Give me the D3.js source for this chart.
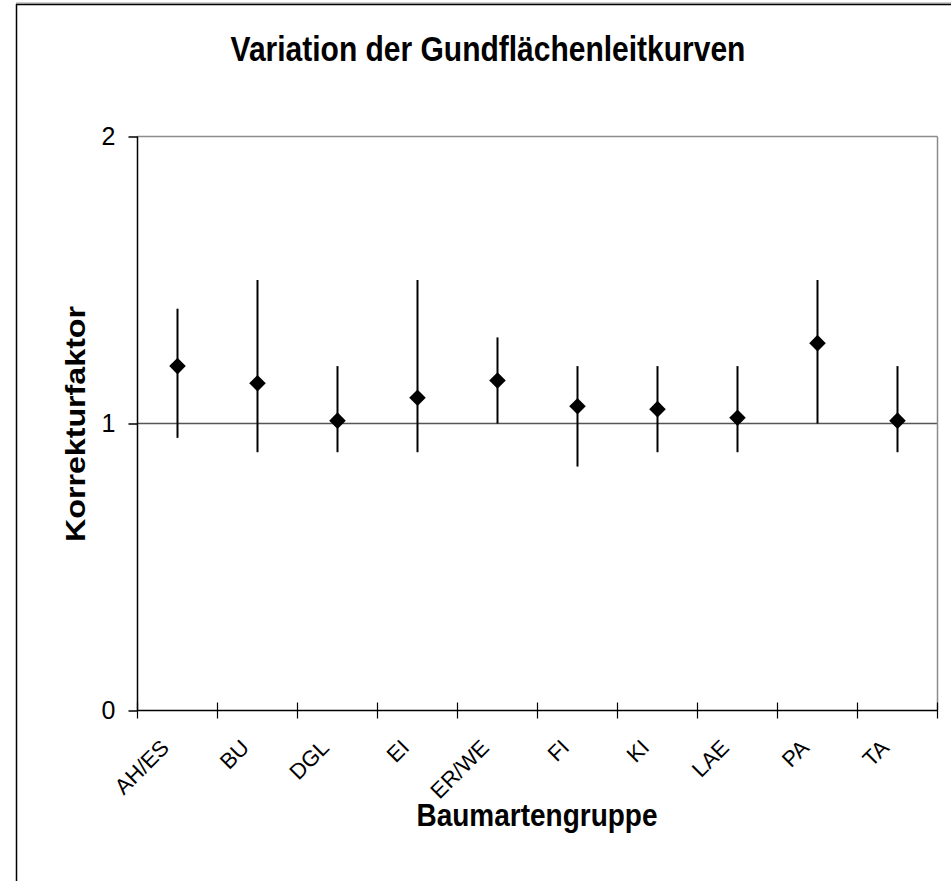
<!DOCTYPE html>
<html>
<head>
<meta charset="utf-8">
<script src="https://cdn.jsdelivr.net/npm/d3@7"></script>
<style>
  html, body { margin: 0; padding: 0; background: #fff; }
  svg { display: block; }
  text { font-family: "Liberation Sans", Arial, sans-serif; fill: #000; }
</style>
</head>
<body>
<svg id="chart" width="951" height="881"></svg>
<script>
// ---- data ----
const categories = ["AH/ES", "BU", "DGL", "EI", "ER/WE", "FI", "KI", "LAE", "PA", "TA"];
const meanValues  = [1.20, 1.14, 1.01, 1.09, 1.15, 1.06, 1.05, 1.02, 1.28, 1.01];
const lowerValues = [0.95, 0.90, 0.90, 0.90, 1.00, 0.85, 0.90, 0.90, 1.00, 0.90];
const upperValues = [1.40, 1.50, 1.20, 1.50, 1.30, 1.20, 1.20, 1.20, 1.50, 1.20];
const yTicks = [0, 1, 2];
const titleText = "Variation der Gundflächenleitkurven";
const xTitle = "Baumartengruppe";
const yTitle = "Korrekturfaktor";

(function () {
const svg = d3.select("#chart");

// outer frame
svg.append("line").attr("x1", 16).attr("x2", 951).attr("y1", 3).attr("y2", 3).attr("stroke", "#999").attr("stroke-width", 1);
svg.append("line").attr("x1", 16).attr("x2", 951).attr("y1", 4.5).attr("y2", 4.5).attr("stroke", "#000").attr("stroke-width", 1.5);
svg.append("line").attr("x1", 16.5).attr("x2", 16.5).attr("y1", 4).attr("y2", 881).attr("stroke", "#000").attr("stroke-width", 1.5);

const pLeft = 137.5, pRight = 937.5, pTop = 136.5, pBottom = 710.5;

const x = d3.scaleBand().domain(categories).range([pLeft, pRight]).padding(0);
const y = d3.scaleLinear().domain([0, 2]).range([pBottom, pTop]);

// gridlines
const g = svg.append("g");
g.selectAll("line.grid").data(yTicks.filter(d => d > 0)).join("line")
  .attr("class", "grid")
  .attr("x1", pLeft).attr("x2", pRight)
  .attr("y1", d => y(d)).attr("y2", d => y(d))
  .attr("stroke", d => d === 2 ? "#8c8c8c" : "#555")
  .attr("stroke-width", 1.5);
// right border of plot area
g.append("line").attr("x1", pRight).attr("x2", pRight).attr("y1", pTop).attr("y2", pBottom)
  .attr("stroke", "#8c8c8c").attr("stroke-width", 1.5);

// y axis
const yAxis = d3.axisLeft(y).tickValues(yTicks).tickSize(9).tickPadding(13).tickFormat(d3.format("d"));
const yg = svg.append("g").attr("transform", `translate(${pLeft},0)`).call(yAxis);
yg.select(".domain").attr("stroke", "#000").attr("stroke-width", 1.5).attr("d", `M0,${pTop}V${pBottom}`);
yg.selectAll(".tick line").attr("stroke", "#000").attr("stroke-width", 1.5);
yg.selectAll(".tick text").attr("font-size", 25).attr("font-family", "Liberation Sans, Arial, sans-serif").attr("fill", "#000");

// x axis line + boundary ticks
svg.append("line").attr("x1", pLeft).attr("x2", pRight).attr("y1", pBottom).attr("y2", pBottom)
  .attr("stroke", "#000").attr("stroke-width", 1.5);
const bounds = categories.map(c => x(c)).concat([x(categories[categories.length - 1]) + x.bandwidth()]);
svg.selectAll("line.xtick").data(bounds).join("line")
  .attr("class", "xtick")
  .attr("x1", d => d).attr("x2", d => d)
  .attr("y1", pBottom - 8).attr("y2", pBottom + 8)
  .attr("stroke", "#000").attr("stroke-width", 1.2);

// x tick labels
svg.selectAll("text.xlab").data(categories).join("text")
  .attr("class", "xlab")
  .attr("text-anchor", "end")
  .attr("font-size", 22)
  .attr("transform", d => `translate(${x(d) + x.bandwidth() / 2 - 7},749) rotate(-45)`)
  .text(d => d);

// error bars
const pts = categories.map((c, i) => ({ c, m: meanValues[i], lo: lowerValues[i], hi: upperValues[i] }));
svg.selectAll("line.err").data(pts).join("line")
  .attr("class", "err")
  .attr("x1", d => x(d.c) + x.bandwidth() / 2).attr("x2", d => x(d.c) + x.bandwidth() / 2)
  .attr("y1", d => y(d.lo)).attr("y2", d => y(d.hi))
  .attr("stroke", "#000").attr("stroke-width", 2);

// diamonds
const diamond = d3.symbol().type(d3.symbolDiamond2 || d3.symbolDiamond).size(175);
svg.selectAll("path.pt").data(pts).join("path")
  .attr("class", "pt")
  .attr("transform", d => `translate(${x(d.c) + x.bandwidth() / 2},${y(d.m)})`)
  .attr("d", diamond)
  .attr("fill", "#000");

// titles (vertically stretched like the original)
svg.append("text").attr("transform", "translate(488,61) scale(1,1.15)").attr("text-anchor", "middle")
  .attr("font-size", 30).attr("font-weight", "bold").text(titleText);
svg.append("text").attr("transform", "translate(537,826) scale(1,1.15)").attr("text-anchor", "middle")
  .attr("font-size", 28).attr("font-weight", "bold").text(xTitle);
svg.append("text").attr("transform", "translate(85,424) scale(1,1.15) rotate(-90)").attr("text-anchor", "middle")
  .attr("font-size", 28).attr("font-weight", "bold").text(yTitle);
})();
</script>
</body>
</html>
